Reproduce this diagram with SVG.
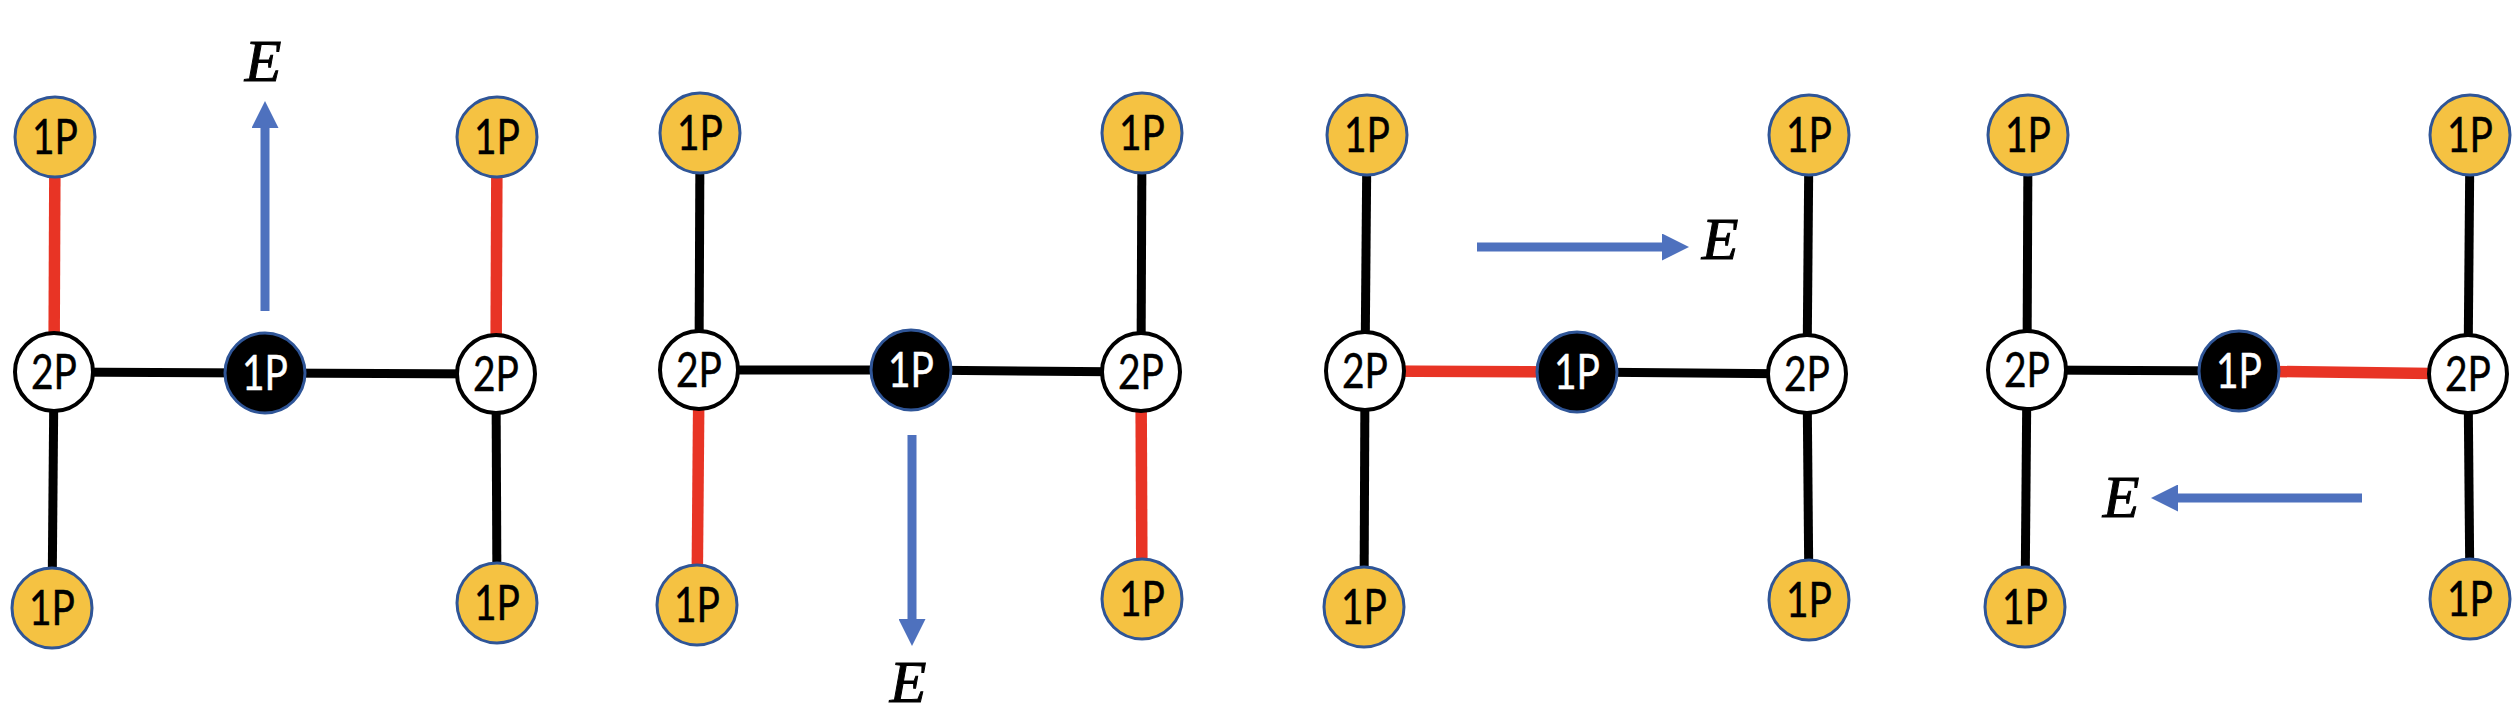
<svg xmlns="http://www.w3.org/2000/svg" width="2520" height="718" viewBox="0 0 2520 718">
<style>
.bk{stroke:#000;stroke-width:9;fill:none}
.rd{stroke:#E83425;stroke-width:11.5;fill:none}
.ar{stroke:#4E71BE;stroke-width:9;fill:none;marker-end:url(#ah)}
.y{fill:#F5C242;stroke:#2F5597;stroke-width:3}
.w{fill:#fff;stroke:#000;stroke-width:4}
.b{fill:#000;stroke:#2F5597;stroke-width:3}
.t{font-family:Lato,"Liberation Sans",sans-serif;font-size:48px;text-anchor:middle;fill:#000;stroke:#000;stroke-width:0.4}
.tw{fill:#fff;stroke:#fff}
.e{font-family:"Liberation Serif",serif;font-style:italic;font-size:60px;text-anchor:middle;fill:#000;stroke:#000;stroke-width:1}
</style>
<defs>
<marker id="ah" markerUnits="userSpaceOnUse" markerWidth="27" markerHeight="27" refX="0" refY="13.5" orient="auto">
<path d="M0,0 L27,13.5 L0,27 z" fill="#4E71BE"/>
</marker>
</defs>
<g id="connectors">
<line class="rd" x1="55" y1="137" x2="54" y2="372"/>
<line class="bk" x1="54" y1="372" x2="52" y2="608"/>
<line class="bk" x1="54" y1="372" x2="265" y2="373"/>
<line class="bk" x1="265" y1="373" x2="496" y2="374"/>
<line class="rd" x1="497" y1="137" x2="496" y2="374"/>
<line class="bk" x1="496" y1="374" x2="497" y2="603"/>
<line class="bk" x1="700" y1="133" x2="699" y2="370"/>
<line class="rd" x1="699" y1="370" x2="697" y2="605"/>
<line class="bk" x1="699" y1="370" x2="911" y2="370"/>
<line class="bk" x1="911" y1="370" x2="1141" y2="372"/>
<line class="bk" x1="1142" y1="133" x2="1141" y2="372"/>
<line class="rd" x1="1141" y1="372" x2="1142" y2="599"/>
<line class="bk" x1="1367" y1="135" x2="1365" y2="371"/>
<line class="bk" x1="1365" y1="371" x2="1364" y2="607"/>
<line class="rd" x1="1365" y1="371" x2="1577" y2="372"/>
<line class="bk" x1="1577" y1="372" x2="1807" y2="374"/>
<line class="bk" x1="1809" y1="135" x2="1807" y2="374"/>
<line class="bk" x1="1807" y1="374" x2="1809" y2="600"/>
<line class="bk" x1="2028" y1="135" x2="2027" y2="370"/>
<line class="bk" x1="2027" y1="370" x2="2025" y2="607"/>
<line class="bk" x1="2027" y1="370" x2="2239" y2="371"/>
<line class="rd" x1="2239" y1="371" x2="2468" y2="374"/>
<line class="bk" x1="2470" y1="135" x2="2468" y2="374"/>
<line class="bk" x1="2468" y1="374" x2="2470" y2="599"/>
<line class="ar" x1="265" y1="311" x2="265" y2="128"/>
<line class="ar" x1="912" y1="435" x2="912" y2="619"/>
<line class="ar" x1="1477" y1="247" x2="1662" y2="247"/>
<line class="ar" x1="2362" y1="498" x2="2178" y2="498"/>
</g>
<g id="p1-t"><circle class="y" cx="55" cy="137" r="40"/><text class="t" x="55" y="154" textLength="46" lengthAdjust="spacingAndGlyphs">1P</text></g>
<g id="p1-l"><circle class="w" cx="54" cy="372" r="39"/><text class="t" x="54" y="389" textLength="46" lengthAdjust="spacingAndGlyphs">2P</text></g>
<g id="p1-b"><circle class="y" cx="52" cy="608" r="40"/><text class="t" x="52" y="625" textLength="46" lengthAdjust="spacingAndGlyphs">1P</text></g>
<g id="p1-c"><circle class="b" cx="265" cy="373" r="40"/><text class="t tw" x="265" y="390" textLength="46" lengthAdjust="spacingAndGlyphs">1P</text></g>
<g id="p1-r"><circle class="w" cx="496" cy="374" r="39"/><text class="t" x="496" y="391" textLength="46" lengthAdjust="spacingAndGlyphs">2P</text></g>
<g id="p1-rt"><circle class="y" cx="497" cy="137" r="40"/><text class="t" x="497" y="154" textLength="46" lengthAdjust="spacingAndGlyphs">1P</text></g>
<g id="p1-rb"><circle class="y" cx="497" cy="603" r="40"/><text class="t" x="497" y="620" textLength="46" lengthAdjust="spacingAndGlyphs">1P</text></g>
<g id="p1-e"><text class="e" x="263" y="81">E</text></g>
<g id="p2-t"><circle class="y" cx="700" cy="133" r="40"/><text class="t" x="700" y="150" textLength="46" lengthAdjust="spacingAndGlyphs">1P</text></g>
<g id="p2-l"><circle class="w" cx="699" cy="370" r="39"/><text class="t" x="699" y="387" textLength="46" lengthAdjust="spacingAndGlyphs">2P</text></g>
<g id="p2-b"><circle class="y" cx="697" cy="605" r="40"/><text class="t" x="697" y="622" textLength="46" lengthAdjust="spacingAndGlyphs">1P</text></g>
<g id="p2-c"><circle class="b" cx="911" cy="370" r="40"/><text class="t tw" x="911" y="387" textLength="46" lengthAdjust="spacingAndGlyphs">1P</text></g>
<g id="p2-r"><circle class="w" cx="1141" cy="372" r="39"/><text class="t" x="1141" y="389" textLength="46" lengthAdjust="spacingAndGlyphs">2P</text></g>
<g id="p2-rt"><circle class="y" cx="1142" cy="133" r="40"/><text class="t" x="1142" y="150" textLength="46" lengthAdjust="spacingAndGlyphs">1P</text></g>
<g id="p2-rb"><circle class="y" cx="1142" cy="599" r="40"/><text class="t" x="1142" y="616" textLength="46" lengthAdjust="spacingAndGlyphs">1P</text></g>
<g id="p2-e"><text class="e" x="908" y="702">E</text></g>
<g id="p3-t"><circle class="y" cx="1367" cy="135" r="40"/><text class="t" x="1367" y="152" textLength="46" lengthAdjust="spacingAndGlyphs">1P</text></g>
<g id="p3-l"><circle class="w" cx="1365" cy="371" r="39"/><text class="t" x="1365" y="388" textLength="46" lengthAdjust="spacingAndGlyphs">2P</text></g>
<g id="p3-b"><circle class="y" cx="1364" cy="607" r="40"/><text class="t" x="1364" y="624" textLength="46" lengthAdjust="spacingAndGlyphs">1P</text></g>
<g id="p3-c"><circle class="b" cx="1577" cy="372" r="40"/><text class="t tw" x="1577" y="389" textLength="46" lengthAdjust="spacingAndGlyphs">1P</text></g>
<g id="p3-r"><circle class="w" cx="1807" cy="374" r="39"/><text class="t" x="1807" y="391" textLength="46" lengthAdjust="spacingAndGlyphs">2P</text></g>
<g id="p3-rt"><circle class="y" cx="1809" cy="135" r="40"/><text class="t" x="1809" y="152" textLength="46" lengthAdjust="spacingAndGlyphs">1P</text></g>
<g id="p3-rb"><circle class="y" cx="1809" cy="600" r="40"/><text class="t" x="1809" y="617" textLength="46" lengthAdjust="spacingAndGlyphs">1P</text></g>
<g id="p3-e"><text class="e" x="1720" y="259">E</text></g>
<g id="p4-t"><circle class="y" cx="2028" cy="135" r="40"/><text class="t" x="2028" y="152" textLength="46" lengthAdjust="spacingAndGlyphs">1P</text></g>
<g id="p4-l"><circle class="w" cx="2027" cy="370" r="39"/><text class="t" x="2027" y="387" textLength="46" lengthAdjust="spacingAndGlyphs">2P</text></g>
<g id="p4-b"><circle class="y" cx="2025" cy="607" r="40"/><text class="t" x="2025" y="624" textLength="46" lengthAdjust="spacingAndGlyphs">1P</text></g>
<g id="p4-c"><circle class="b" cx="2239" cy="371" r="40"/><text class="t tw" x="2239" y="388" textLength="46" lengthAdjust="spacingAndGlyphs">1P</text></g>
<g id="p4-r"><circle class="w" cx="2468" cy="374" r="39"/><text class="t" x="2468" y="391" textLength="46" lengthAdjust="spacingAndGlyphs">2P</text></g>
<g id="p4-rt"><circle class="y" cx="2470" cy="135" r="40"/><text class="t" x="2470" y="152" textLength="46" lengthAdjust="spacingAndGlyphs">1P</text></g>
<g id="p4-rb"><circle class="y" cx="2470" cy="599" r="40"/><text class="t" x="2470" y="616" textLength="46" lengthAdjust="spacingAndGlyphs">1P</text></g>
<g id="p4-e"><text class="e" x="2121" y="517">E</text></g>
</svg>
